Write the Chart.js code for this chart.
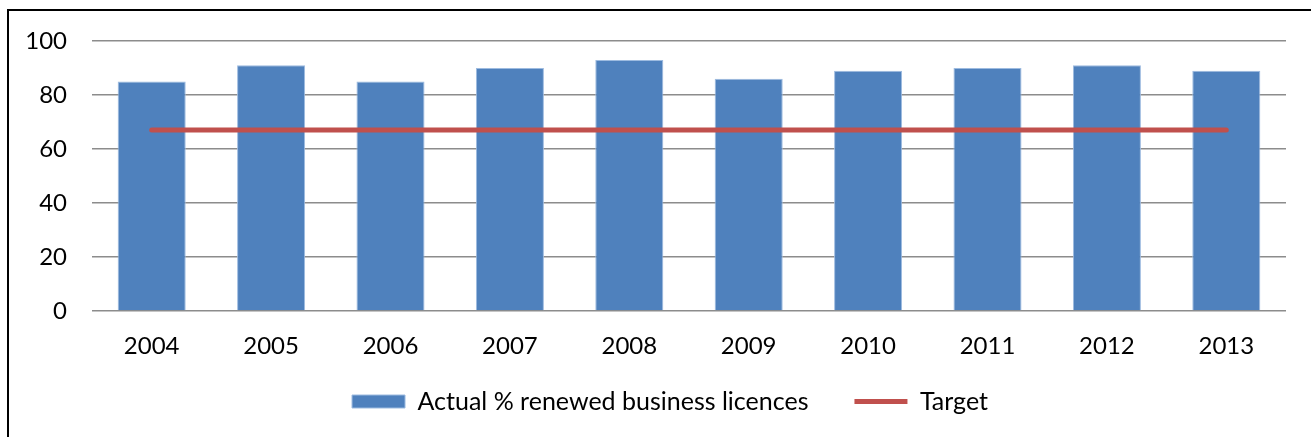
<!DOCTYPE html>
<html>
<head>
<meta charset="utf-8">
<script src="https://cdn.jsdelivr.net/npm/chart.js@4"></script>
<style>
  html, body { margin: 0; padding: 0; background: #fff; overflow: hidden; }
  #frame {
    position: absolute; left: 7px; top: 9px;
    width: 1400px; height: 500px;
    border-left: 2px solid #000; border-top: 2px solid #000;
  }
  #licenceChart { position: absolute; left: 0; top: 0; }
</style>
</head>
<body>
<div id="frame"></div>
<canvas id="licenceChart" width="1311" height="437"></canvas>
<script>
// years and percentages of business licences renewed
const years = ['2004', '2005', '2006', '2007', '2008', '2009', '2010', '2011', '2012', '2013'];
const renewedPct = [85, 91, 85, 90, 93, 86, 89, 90, 91, 89];
const targetPct = [67, 67, 67, 67, 67, 67, 67, 67, 67, 67];
const yTicks = [0, 20, 40, 60, 80, 100];

Chart.defaults.font.family = 'Lato, "Open Sans", sans-serif';
Chart.defaults.font.size = 24;
Chart.defaults.color = '#000';

// the legend uses a wide padding for the gap between its items,
// so pull it up a little to sit closer to the year labels,
// and move it slightly right of centre
const legendNudge = {
    id: 'legendNudge',
    afterLayout(chart) {
        const lg = chart.legend;
        lg.top -= 20;
        lg.bottom -= 20;
        lg.left += 27;
        lg.right += 27;
    }
};

const ctx = document.getElementById('licenceChart');

new Chart(ctx, {
    type: 'bar',
    data: {
        labels: years,
        datasets: [
            {
                type: 'bar',
                label: 'Actual % renewed business licences',
                data: renewedPct,
                backgroundColor: '#4F81BD',
                borderColor: '#9dbbe0',
                borderWidth: 1,
                categoryPercentage: 1,
                barPercentage: 0.57,
                pointStyle: 'rect',
                order: 1
            },
            {
                type: 'line',
                label: 'Target',
                data: targetPct,
                borderColor: '#C0504D',
                backgroundColor: '#C0504D',
                borderWidth: 5,
                borderCapStyle: 'round',
                pointRadius: 0,
                pointStyle: 'line',
                order: 0
            }
        ]
    },
    options: {
        responsive: false,
        animation: false,
        devicePixelRatio: 1,
        layout: {
            padding: { top: 41, right: 25, bottom: 0, left: 0 }
        },
        scales: {
            x: {
                grid: { display: false, drawTicks: false },
                border: { display: false },
                ticks: { padding: 21, maxRotation: 0 },
                afterFit: scale => { scale.height = 52; }
            },
            y: {
                min: 0,
                max: 100,
                afterBuildTicks: scale => { scale.ticks = yTicks.map(v => ({ value: v })); },
                grid: { color: '#8c8c8c', lineWidth: 1.5, drawTicks: false },
                border: { display: false },
                ticks: { padding: 25 },
                afterFit: scale => { scale.width = 92; }
            }
        },
        plugins: {
            tooltip: { enabled: false },
            legend: {
                position: 'bottom',
                maxHeight: 74,
                labels: {
                    font: { size: 25 },
                    usePointStyle: true,
                    pointStyleWidth: 53,
                    boxHeight: 13,
                    padding: 46,
                    sort: (a, b) => a.datasetIndex - b.datasetIndex
                }
            }
        }
    },
    plugins: [legendNudge]
});
</script>
</body>
</html>
